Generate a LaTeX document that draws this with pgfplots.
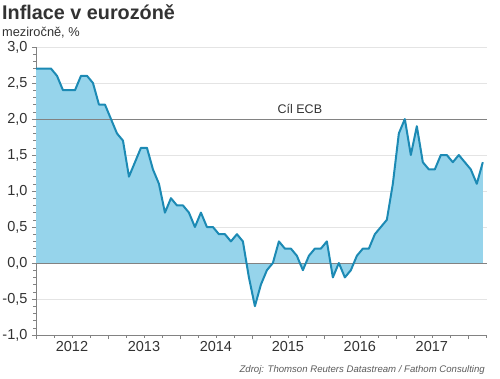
\documentclass[border=0pt]{standalone}
\usepackage{pgfplots}
\pgfplotsset{compat=1.18}
\usepackage{fontspec}
\setmainfont{Liberation Sans}
\definecolor{areafill}{RGB}{150,212,235}
\definecolor{lineblue}{RGB}{28,138,180}
\definecolor{txt}{RGB}{50,50,50}
\definecolor{gridc}{RGB}{228,228,228}
\definecolor{refline}{RGB}{130,130,130}
\begin{document}
\begin{tikzpicture}[x=1pt,y=1pt]
\path[use as bounding box] (0,0) rectangle (500,378);
\node[anchor=base west,font=\bfseries\fontsize{19.8}{22}\selectfont,text=txt,inner sep=0] at (2,358) {Inflace v eurozóně};
\node[anchor=base west,font=\fontsize{12.8}{14}\selectfont,text=txt,inner sep=0] at (2,341) {meziročně, \%};
\begin{axis}[
  at={(36pt,43pt)}, anchor=south west,
  scale only axis, width=451pt, height=288pt,
  xmin=0, xmax=75.2, ymin=-1, ymax=3,
  axis x line*=bottom, axis y line*=left,
  axis line style={draw=refline, line width=0.6pt},
  ytick={-1,-0.5,...,3},
  minor y tick num=4,
  ymajorgrids, grid style={draw=gridc, line width=0.6pt},
  xtick={0,12,...,72}, xticklabels={},
  minor xtick={3,6,9,15,18,21,27,30,33,39,42,45,51,54,57,63,66,69,75},
  extra x ticks={6,18,30,42,54,66},
  extra x tick labels={2012,2013,2014,2015,2016,2017},
  extra x tick style={major tick length=0pt, grid=none},
  tick style={draw=refline, line width=0.5pt},
  major tick length=4pt, minor tick length=2.5pt,
  tick align=outside,
  xtick pos=bottom, ytick pos=left,
  ticklabel style={font=\fontsize{14.5}{16}\selectfont, text=txt},
  xticklabel style={yshift=-3pt},
  yticklabel style={xshift=-1pt},
  /pgf/number format/.cd, use comma, fixed, fixed zerofill, precision=1, assume math mode=true,
]
\addplot[fill=areafill, draw=none] coordinates {
(-0.5,2.7)(0.5,2.7)(1.5,2.7)(2.5,2.7)(3.5,2.6)(4.5,2.4)(5.5,2.4)(6.5,2.4)(7.5,2.6)(8.5,2.6)(9.5,2.5)(10.5,2.2)(11.5,2.2)
(12.5,2.0)(13.5,1.8)(14.5,1.7)(15.5,1.2)(16.5,1.4)(17.5,1.6)(18.5,1.6)(19.5,1.3)(20.5,1.1)(21.5,0.7)(22.5,0.9)(23.5,0.8)
(24.5,0.8)(25.5,0.7)(26.5,0.5)(27.5,0.7)(28.5,0.5)(29.5,0.5)(30.5,0.4)(31.5,0.4)(32.5,0.3)(33.5,0.4)(34.5,0.3)(35.5,-0.2)
(36.5,-0.6)(37.5,-0.3)(38.5,-0.1)(39.5,0.0)(40.5,0.3)(41.5,0.2)(42.5,0.2)(43.5,0.1)(44.5,-0.1)(45.5,0.1)(46.5,0.2)(47.5,0.2)
(48.5,0.3)(49.5,-0.2)(50.5,0.0)(51.5,-0.2)(52.5,-0.1)(53.5,0.1)(54.5,0.2)(55.5,0.2)(56.5,0.4)(57.5,0.5)(58.5,0.6)(59.5,1.1)
(60.5,1.8)(61.5,2.0)(62.5,1.5)(63.5,1.9)(64.5,1.4)(65.5,1.3)(66.5,1.3)(67.5,1.5)(68.5,1.5)(69.5,1.4)(70.5,1.5)(71.5,1.4)
(72.5,1.3)(73.5,1.1)(74.5,1.4)
} \closedcycle;
\addplot[refline, line width=0.8pt, forget plot] coordinates {(0,0)(75.2,0)};
\addplot[refline, line width=0.8pt, forget plot] coordinates {(0,2)(75.2,2)};
\addplot[lineblue, line width=2pt, line join=round] coordinates {
(-0.5,2.7)(0.5,2.7)(1.5,2.7)(2.5,2.7)(3.5,2.6)(4.5,2.4)(5.5,2.4)(6.5,2.4)(7.5,2.6)(8.5,2.6)(9.5,2.5)(10.5,2.2)(11.5,2.2)
(12.5,2.0)(13.5,1.8)(14.5,1.7)(15.5,1.2)(16.5,1.4)(17.5,1.6)(18.5,1.6)(19.5,1.3)(20.5,1.1)(21.5,0.7)(22.5,0.9)(23.5,0.8)
(24.5,0.8)(25.5,0.7)(26.5,0.5)(27.5,0.7)(28.5,0.5)(29.5,0.5)(30.5,0.4)(31.5,0.4)(32.5,0.3)(33.5,0.4)(34.5,0.3)(35.5,-0.2)
(36.5,-0.6)(37.5,-0.3)(38.5,-0.1)(39.5,0.0)(40.5,0.3)(41.5,0.2)(42.5,0.2)(43.5,0.1)(44.5,-0.1)(45.5,0.1)(46.5,0.2)(47.5,0.2)
(48.5,0.3)(49.5,-0.2)(50.5,0.0)(51.5,-0.2)(52.5,-0.1)(53.5,0.1)(54.5,0.2)(55.5,0.2)(56.5,0.4)(57.5,0.5)(58.5,0.6)(59.5,1.1)
(60.5,1.8)(61.5,2.0)(62.5,1.5)(63.5,1.9)(64.5,1.4)(65.5,1.3)(66.5,1.3)(67.5,1.5)(68.5,1.5)(69.5,1.4)(70.5,1.5)(71.5,1.4)
(72.5,1.3)(73.5,1.1)(74.5,1.4)
};
\node[font=\fontsize{12.5}{14}\selectfont, text=txt, anchor=base] at (axis cs:44,2.08) {Cíl ECB};
\end{axis}
\node[anchor=base east,font=\itshape\fontsize{9.6}{11}\selectfont,text=txt!80,inner sep=0] at (485,6) {Zdroj: Thomson Reuters Datastream / Fathom Consulting};
\end{tikzpicture}
\end{document}
